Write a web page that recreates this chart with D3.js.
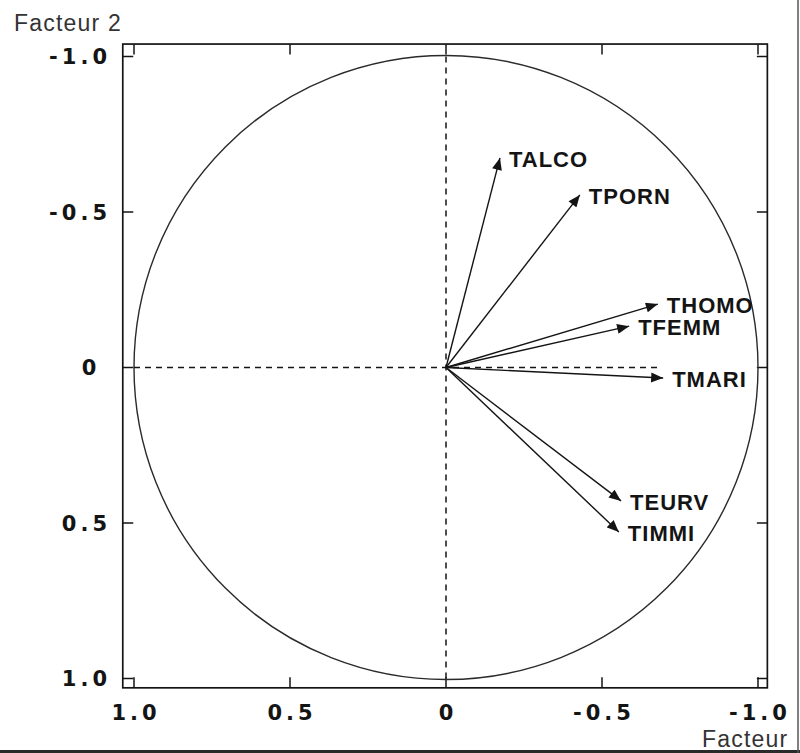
<!DOCTYPE html>
<html>
<head>
<meta charset="utf-8">
<script src="https://cdn.jsdelivr.net/npm/d3@7"></script>
<style>
  html, body { margin: 0; padding: 0; background: #fff; }
  svg { display: block; }
</style>
</head>
<body>
<svg id="chart" width="800" height="753"></svg>
<script>
// ---- data ----
const variables = ["TALCO", "TPORN", "THOMO", "TFEMM", "TMARI", "TEURV", "TIMMI"];
const factor1 = [-0.173, -0.429, -0.679, -0.587, -0.696, -0.561, -0.554];
const factor2 = [-0.674, -0.555, -0.204, -0.133, 0.034, 0.429, 0.529];
const tickValues = [1.0, 0.5, 0, -0.5, -1.0];
const xTickLabels = ["1.0", "0.5", "0", "-0.5", "-1.0"];
const yTickValues = [-1.0, -0.5, 0, 0.5, 1.0];
const yTickLabels = ["-1.0", "-0.5", "0", "0.5", "1.0"];
const xTitle = "Facteur";
const yTitle = "Facteur 2";

// ---- layout ----
const svg = d3.select("#chart");
const x = d3.scaleLinear().domain([1, -1]).range([134, 758]);
const y = d3.scaleLinear().domain([-1, 1]).range([56.5, 678.5]);
const frame = { left: x(1.036), right: x(-1.03), top: y(-1.04), bottom: y(1.03) };
const ink = "#141414";

// window border (right and bottom)
svg.append("rect").attr("x", 0).attr("y", 750).attr("width", 800).attr("height", 3).attr("fill", "#2a2a2a");
svg.append("line").attr("x1", 798).attr("x2", 798).attr("y1", 0).attr("y2", 753)
  .attr("stroke", "#555").attr("stroke-width", 1.5);

// frame
svg.append("rect")
  .attr("x", frame.left).attr("y", frame.top)
  .attr("width", frame.right - frame.left).attr("height", frame.bottom - frame.top)
  .attr("fill", "none").attr("stroke", ink).attr("stroke-width", 1.7);

// inward ticks on all four sides
const tickLen = 10.5;
const gT = svg.append("g").attr("stroke", ink).attr("stroke-width", 1.5);
tickValues.forEach(v => {
  gT.append("line").attr("x1", x(v)).attr("x2", x(v)).attr("y1", frame.bottom).attr("y2", frame.bottom - tickLen);
  gT.append("line").attr("x1", x(v)).attr("x2", x(v)).attr("y1", frame.top).attr("y2", frame.top + tickLen);
});
yTickValues.forEach(v => {
  gT.append("line").attr("y1", y(v)).attr("y2", y(v)).attr("x1", frame.left).attr("x2", frame.left + tickLen);
  gT.append("line").attr("y1", y(v)).attr("y2", y(v)).attr("x1", frame.right).attr("x2", frame.right - tickLen);
});

// tick labels
const tickFont = { family: "'DejaVu Sans', sans-serif", size: 21, ls: 4 };
svg.append("g").selectAll("text").data(tickValues).join("text")
  .attr("x", (d) => x(d) + tickFont.ls / 2)
  .attr("y", 720)
  .attr("text-anchor", "middle")
  .attr("font-family", tickFont.family).attr("font-size", tickFont.size).attr("font-weight", "bold")
  .attr("letter-spacing", tickFont.ls).attr("fill", ink)
  .text((d, i) => xTickLabels[i]);

svg.append("g").selectAll("text").data(yTickValues).join("text")
  .attr("x", d => d === 0 ? 89 + tickFont.ls / 2 : 107 + tickFont.ls)
  .attr("y", d => y(d) + 7.5)
  .attr("text-anchor", d => d === 0 ? "middle" : "end")
  .attr("font-family", tickFont.family).attr("font-size", tickFont.size).attr("font-weight", "bold")
  .attr("letter-spacing", tickFont.ls).attr("fill", ink)
  .text((d, i) => yTickLabels[i]);

// axis titles
svg.append("text").attr("x", 14).attr("y", 31)
  .attr("font-family", "'Liberation Sans', Arial, sans-serif").attr("font-size", 23)
  .attr("letter-spacing", 1.2).attr("fill", "#333").text(yTitle);
svg.append("text").attr("x", 702).attr("y", 747)
  .attr("font-family", "'Liberation Sans', Arial, sans-serif").attr("font-size", 23)
  .attr("letter-spacing", 1.2).attr("fill", "#333").text(xTitle);

// unit circle
svg.append("circle")
  .attr("cx", x(0)).attr("cy", y(0)).attr("r", x(-1) - x(0))
  .attr("fill", "none").attr("stroke", "#2a2a2a").attr("stroke-width", 1.4);

// dashed axes through origin
svg.append("line")
  .attr("x1", x(0)).attr("x2", x(0)).attr("y1", y(-1)).attr("y2", y(1))
  .attr("stroke", ink).attr("stroke-width", 1.5).attr("stroke-dasharray", "6,5");
svg.append("line")
  .attr("x1", x(1)).attr("x2", x(-0.683)).attr("y1", y(0)).attr("y2", y(0))
  .attr("stroke", ink).attr("stroke-width", 1.5).attr("stroke-dasharray", "6,5");

// arrowhead marker
svg.append("defs").append("marker")
  .attr("id", "arrow").attr("markerUnits", "userSpaceOnUse")
  .attr("viewBox", "0 0 12 10").attr("refX", 12).attr("refY", 5)
  .attr("markerWidth", 13).attr("markerHeight", 10).attr("orient", "auto")
  .append("path").attr("d", "M0,0 L12,5 L0,10 Z").attr("fill", ink);

const vectors = variables.map((name, i) => ({ name, f1: factor1[i], f2: factor2[i] }));

svg.append("g").selectAll("line").data(vectors).join("line")
  .attr("x1", x(0)).attr("y1", y(0))
  .attr("x2", d => x(d.f1)).attr("y2", d => y(d.f2))
  .attr("stroke", ink).attr("stroke-width", 1.4)
  .attr("marker-end", "url(#arrow)");

svg.append("g").selectAll("text").data(vectors).join("text")
  .attr("x", d => x(d.f1) + 9)
  .attr("y", d => y(d.f2) + 9)
  .attr("font-family", "'Liberation Sans', Arial, sans-serif")
  .attr("font-size", 22).attr("font-weight", "bold").attr("letter-spacing", 1)
  .attr("fill", ink)
  .text(d => d.name);
</script>
</body>
</html>
